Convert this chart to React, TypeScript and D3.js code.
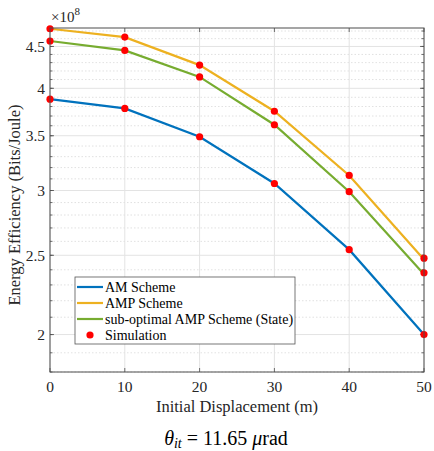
import React from "react";
import * as d3 from "d3";

// data (values in units of 1e8 Bits/Joule)
const displacement = [0, 10, 20, 30, 40, 50];
const amScheme = [3.88, 3.78, 3.49, 3.06, 2.54, 2.0];
const ampScheme = [4.73, 4.62, 4.27, 3.75, 3.13, 2.47];
const subOptimal = [4.57, 4.45, 4.13, 3.61, 2.99, 2.37];
const simAM = [3.88, 3.78, 3.49, 3.06, 2.54, 2.0];
const simAMP = [4.73, 4.62, 4.27, 3.75, 3.13, 2.48];
const simSub = [4.57, 4.45, 4.13, 3.61, 2.99, 2.38];

const xTicks = [0, 10, 20, 30, 40, 50];
const yTicks = [2, 2.5, 3, 3.5, 4, 4.5];
const yMinor = d3.range(18, 48).map((d) => d / 10);

const seriesNames = ["AM Scheme", "AMP Scheme", "sub-optimal AMP Scheme (State)"];
const colors = ["#0072BD", "#EDB120", "#77AC30"];

const W = 434;
const H = 451;
const margin = { top: 28, right: 10, bottom: 79, left: 50 };
const font = "'Liberation Serif', 'Times New Roman', serif";

export default function App() {
  const x = d3
    .scaleLinear()
    .domain([0, 50])
    .range([margin.left, W - margin.right]);
  const y = d3
    .scaleLog()
    .domain([1.8, 4.74])
    .range([H - margin.bottom, margin.top]);

  const line = d3
    .line<number>()
    .x((_, i) => x(displacement[i]))
    .y((d) => y(d));

  const series = [amScheme, ampScheme, subOptimal];
  const sims = [simAM, simAMP, simSub];

  const x0 = x.range()[0];
  const x1 = x.range()[1];
  const yb = y.range()[0];
  const yt = y.range()[1];
  const axisColor = "#4d4d4d";

  const lx = 75;
  const ly = 277;

  return (
    <svg
      width={W}
      height={H}
      style={{ position: "absolute", left: 0, top: 0, background: "#fff" }}
      fontFamily={font}
    >
      {/* minor grid */}
      {yMinor
        .filter((v) => !yTicks.includes(v))
        .map((v) => (
          <line
            key={"m" + v}
            x1={x0}
            x2={x1}
            y1={y(v)}
            y2={y(v)}
            stroke="#d9d9d9"
            strokeWidth={0.8}
            strokeDasharray="1.5,2"
          />
        ))}
      {/* major grid */}
      {yTicks.map((v) => (
        <line key={"g" + v} x1={x0} x2={x1} y1={y(v)} y2={y(v)} stroke="#e3e3e3" strokeWidth={1} />
      ))}
      {xTicks.map((v) => (
        <line key={"gx" + v} x1={x(v)} x2={x(v)} y1={yt} y2={yb} stroke="#e3e3e3" strokeWidth={1} />
      ))}

      {/* ticks (inward, both sides) */}
      {yMinor.map((v) => (
        <g key={"t" + v} stroke={axisColor} strokeWidth={0.8}>
          <line x1={x0} x2={x0 + 2.5} y1={y(v)} y2={y(v)} />
          <line x1={x1} x2={x1 - 2.5} y1={y(v)} y2={y(v)} />
        </g>
      ))}
      {yTicks.map((v) => (
        <g key={"T" + v} stroke={axisColor} strokeWidth={0.8}>
          <line x1={x0} x2={x0 + 4} y1={y(v)} y2={y(v)} />
          <line x1={x1} x2={x1 - 4} y1={y(v)} y2={y(v)} />
        </g>
      ))}
      {xTicks.map((v) => (
        <g key={"X" + v} stroke={axisColor} strokeWidth={0.8}>
          <line x1={x(v)} x2={x(v)} y1={yb} y2={yb - 4} />
          <line x1={x(v)} x2={x(v)} y1={yt} y2={yt + 4} />
        </g>
      ))}

      {/* series */}
      {series.map((s, i) => (
        <path key={"s" + i} d={line(s) ?? ""} fill="none" stroke={colors[i]} strokeWidth={2.2} />
      ))}
      {sims.map((s, i) =>
        s.map((v, j) => (
          <circle key={"p" + i + "-" + j} cx={x(displacement[j])} cy={y(v)} r={3.6} fill="#ff0000" />
        ))
      )}

      {/* box */}
      <rect x={x0} y={yt} width={x1 - x0} height={yb - yt} fill="none" stroke={axisColor} strokeWidth={1} />

      {/* tick labels */}
      {yTicks.map((v) => (
        <text key={"yl" + v} x={x0 - 5} y={y(v)} dy="0.35em" textAnchor="end" fontSize={15.5} fill="#262626">
          {v}
        </text>
      ))}
      {xTicks.map((v) => (
        <text key={"xl" + v} x={x(v)} y={yb + 20} textAnchor="middle" fontSize={15.5} fill="#262626">
          {v}
        </text>
      ))}
      <text x={51} y={22} fontSize={15} fill="#262626">
        ×10
        <tspan fontSize={11} dy={-7}>
          8
        </tspan>
      </text>

      {/* axis labels */}
      <text x={x((0 + 50) / 2)} y={yb + 40} textAnchor="middle" fontSize={16.5} fill="#262626">
        Initial Displacement (m)
      </text>
      <text
        transform={`translate(20,${(yt + yb) / 2 + 5}) rotate(-90)`}
        textAnchor="middle"
        fontSize={16.5}
        fill="#262626"
      >
        Energy Efficiency (Bits/Joule)
      </text>

      {/* legend */}
      <rect x={lx} y={ly} width={220} height={67} fill="#fff" stroke="#555" strokeWidth={0.8} />
      {seriesNames.map((n, i) => (
        <g key={"lg" + i}>
          <line x1={lx + 2} x2={lx + 28} y1={ly + 10 + i * 16} y2={ly + 10 + i * 16} stroke={colors[i]} strokeWidth={2.2} />
          <text x={lx + 30} y={ly + 10 + i * 16} dy="0.35em" fontSize={14} fill="#000">
            {n}
          </text>
        </g>
      ))}
      <circle cx={lx + 15} cy={ly + 58} r={3.6} fill="#ff0000" />
      <text x={lx + 30} y={ly + 58} dy="0.35em" fontSize={14} fill="#000">
        Simulation
      </text>

      {/* caption */}
      <text x={226} y={445} textAnchor="middle" fontSize={20} fill="#000">
        <tspan fontStyle="italic">θ</tspan>
        <tspan fontStyle="italic" fontSize={14} dy={3}>
          it
        </tspan>
        <tspan dy={-3}> = 11.65 </tspan>
        <tspan fontStyle="italic">μ</tspan>
        <tspan>rad</tspan>
      </text>
    </svg>
  );
}
